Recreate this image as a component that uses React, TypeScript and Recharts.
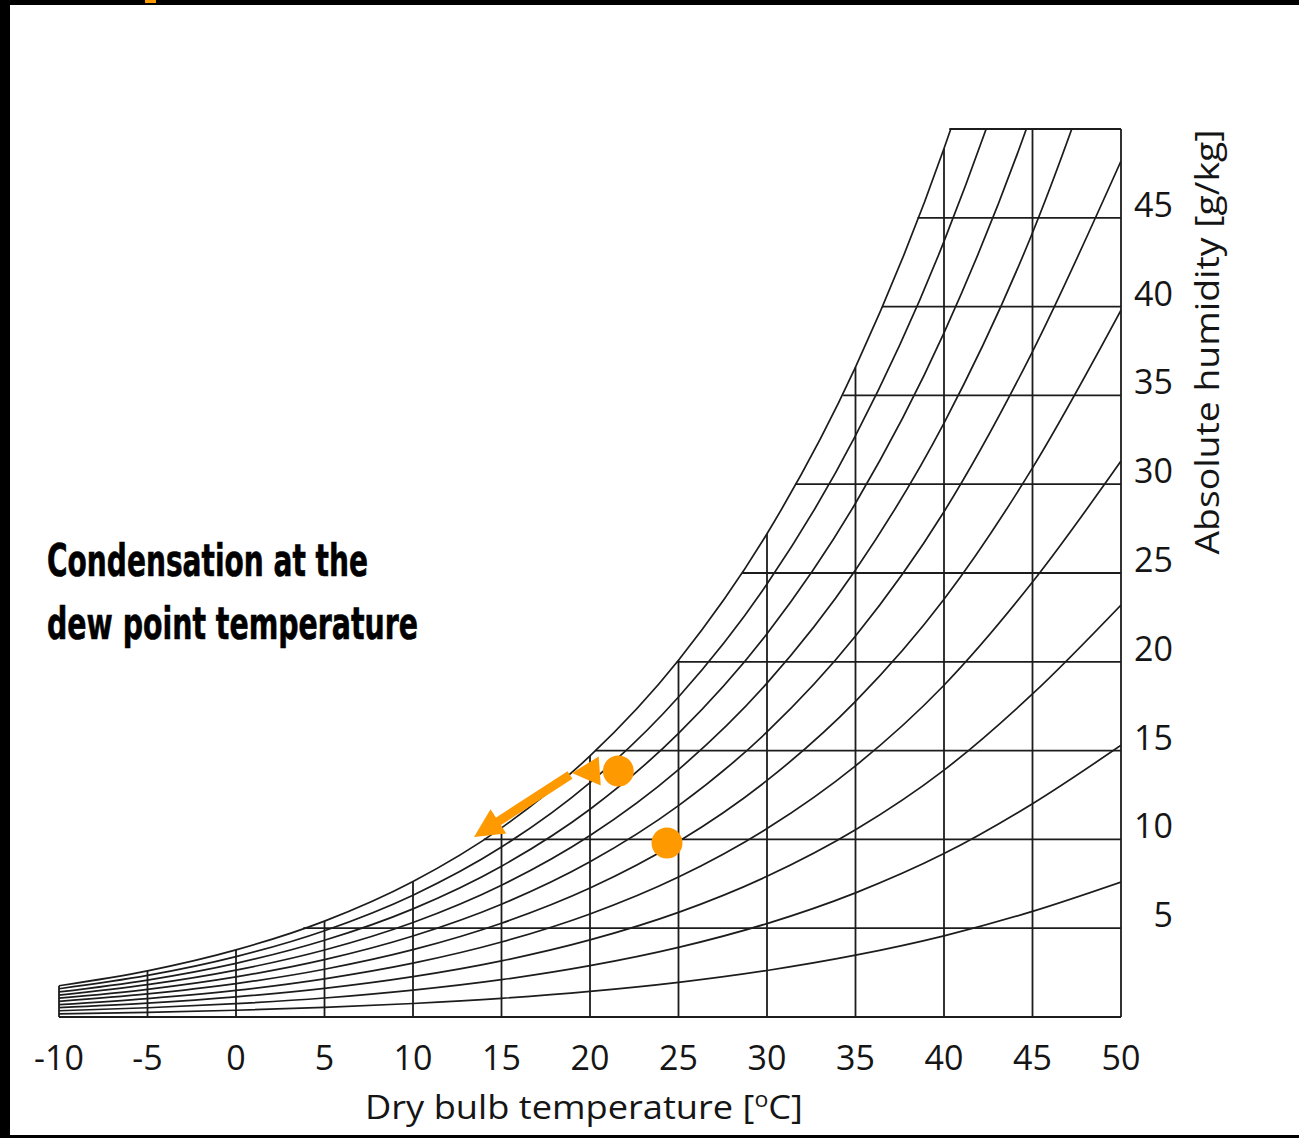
import React from 'react';
import { ComposedChart, Line, XAxis, YAxis, ReferenceLine, Scatter } from 'recharts';

// ---- data ----
const temperatures = [-10, -5, 0, 5, 10, 15, 20, 25, 30, 35, 40, 45, 50];
const rh10 = [0.18, 0.26, 0.38, 0.54, 0.76, 1.05, 1.44, 1.95, 2.62, 3.48, 4.57, 5.95, 7.6];
const rh20 = [0.35, 0.52, 0.75, 1.07, 1.51, 2.1, 2.89, 3.92, 5.26, 6.99, 9.2, 12.01, 15.3];
const rh30 = [0.53, 0.78, 1.13, 1.61, 2.27, 3.16, 4.34, 5.89, 7.92, 10.54, 13.9, 18.19, 23.2];
const rh40 = [0.7, 1.04, 1.5, 2.15, 3.03, 4.22, 5.8, 7.88, 10.61, 14.14, 18.68, 24.49, 31.3];
const rh50 = [0.88, 1.3, 1.88, 2.69, 3.79, 5.28, 7.26, 9.88, 13.32, 17.77, 23.52, 30.92, 39.8];
const rh60 = [1.06, 1.56, 2.26, 3.23, 4.56, 6.35, 8.74, 11.9, 16.05, 21.45, 28.45, 37.47, 48.2];
const rh70 = [1.23, 1.82, 2.64, 3.77, 5.32, 7.42, 10.22, 13.93, 18.8, 25.17, 33.44, 44.16, 58.0];
const rh80 = [1.41, 2.08, 3.02, 4.32, 6.09, 8.49, 11.7, 15.97, 21.58, 28.93, 38.52, 50.99, 67.2];
const rh90 = [1.59, 2.34, 3.4, 4.86, 6.86, 9.57, 13.2, 18.02, 24.38, 32.73, 43.67, 57.95, 76.7];
const rh100 = [1.76, 2.6, 3.78, 5.4, 7.63, 10.65, 14.7, 20.09, 27.21, 36.59, 48.9, 65.06, 86.4];

const xTicks = [-10, -5, 0, 5, 10, 15, 20, 25, 30, 35, 40, 45, 50];
const yTicks = [5, 10, 15, 20, 25, 30, 35, 40, 45];

// vertical grid lines: temperature and the humidity where they stop (saturation curve / top)
const vGridTemps = [-10, -5, 0, 5, 10, 15, 20, 25, 30, 35, 40, 45, 50];
const vGridTops = [1.76, 2.6, 3.78, 5.4, 7.63, 10.65, 14.7, 20.09, 27.21, 36.59, 48.9, 50, 50];
// horizontal grid lines: humidity and the temperature where they start (dew point)
const hGridHumidity = [0, 5, 10, 15, 20, 25, 30, 35, 40, 45, 50];
const hGridStarts = [-10, 3.8, 14.0, 20.3, 24.9, 28.6, 31.6, 34.3, 36.5, 38.5, 40.3];

// orange state points
const pointTemps = [21.6, 24.35];
const pointHumidity = [13.85, 9.8];

// orange arrows
const arrowStartTemps = [20.55, 18.87];
const arrowStartHumidity = [13.85, 13.63];
const arrowEndTemps = [18.98, 13.45];
const arrowEndHumidity = [13.74, 10.13];

const rhSeries: { key: string; values: number[] }[] = [
  { key: 'rh10', values: rh10 },
  { key: 'rh20', values: rh20 },
  { key: 'rh30', values: rh30 },
  { key: 'rh40', values: rh40 },
  { key: 'rh50', values: rh50 },
  { key: 'rh60', values: rh60 },
  { key: 'rh70', values: rh70 },
  { key: 'rh80', values: rh80 },
  { key: 'rh90', values: rh90 },
  { key: 'rh100', values: rh100 },
];

const chartData = temperatures.map((t, i) => {
  const row: Record<string, number> = { t };
  rhSeries.forEach((s) => {
    row[s.key] = s.values[i];
  });
  return row;
});

const pointData = pointTemps.map((t, i) => ({ t, w: pointHumidity[i] }));

// ---- layout ----
const W = 1299;
const H = 1138;
const PLOT_LEFT = 59;
const PLOT_RIGHT = 1121;
const PLOT_TOP = 129;
const PLOT_BOTTOM = 1017;
const Y_AXIS_W = 60;
const X_AXIS_H = 40;

const LINE = '#1c1c1c';
const ORANGE = '#FF9900';
const TEXT = '#151515';
const FONT = '"Open Sans", "Noto Sans", sans-serif';
const TICK_FS = 34;

const XTick = (props: any) => {
  const { x, payload } = props;
  return (
    <text x={x} y={PLOT_BOTTOM + 53} textAnchor="middle" fontSize={TICK_FS} fontFamily={FONT} fill={TEXT}>
      {payload.value}
    </text>
  );
};

const YTick = (props: any) => {
  const { y, payload } = props;
  return (
    <text x={PLOT_RIGHT + 52} y={y - 1} textAnchor="end" fontSize={TICK_FS} fontFamily={FONT} fill={TEXT}>
      {payload.value}
    </text>
  );
};

const XTitle = () => (
  <text
    x={365}
    y={PLOT_BOTTOM + 102}
    fontSize={33}
    fontFamily={FONT}
    fill={TEXT}
    textLength={438}
    lengthAdjust="spacingAndGlyphs"
  >
    {'Dry bulb temperature ['}
    <tspan fontSize={21} dy={-12}>o</tspan>
    <tspan dy={12}>{'C]'}</tspan>
  </text>
);

const YTitle = () => (
  <text
    x={1219}
    y={342}
    transform="rotate(-90, 1219, 342)"
    textAnchor="middle"
    fontSize={33}
    fontFamily={FONT}
    fill={TEXT}
    textLength={425}
    lengthAdjust="spacingAndGlyphs"
  >
    Absolute humidity [g/kg]
  </text>
);

const makeArrow = (maxHead: number, headWidth: number, shaftWidth: number) => (p: any) => {
  const { x1, y1, x2, y2 } = p;
  if ([x1, y1, x2, y2].some((v) => typeof v !== 'number' || isNaN(v))) return <g />;
  const dx = x2 - x1;
  const dy = y2 - y1;
  const len = Math.hypot(dx, dy) || 1;
  const ux = dx / len;
  const uy = dy / len;
  const nx = -uy;
  const ny = ux;
  const head = Math.min(maxHead, len);
  const bx = x2 - ux * head;
  const by = y2 - uy * head;
  const hw = headWidth / 2;
  return (
    <g>
      {len - head > 1 && (
        <line x1={x1} y1={y1} x2={bx + ux * 2} y2={by + uy * 2} stroke={ORANGE} strokeWidth={shaftWidth} />
      )}
      <polygon
        points={`${x2},${y2} ${bx + nx * hw},${by + ny * hw} ${bx - nx * hw},${by - ny * hw}`}
        fill={ORANGE}
      />
    </g>
  );
};

const Dot = (p: any) => <circle cx={p.cx} cy={p.cy} r={15.5} fill={ORANGE} />;

export default function App() {
  return (
    <div style={{ position: 'absolute', left: 0, top: 0, width: W, height: H, background: '#000' }}>
      <div style={{ position: 'absolute', left: 10, top: 5, width: W - 10, height: 1130, background: '#fff' }} />
      <div style={{ position: 'absolute', left: 145, top: 0, width: 11, height: 3, background: ORANGE }} />
      <div style={{ position: 'absolute', left: 0, top: 0 }}>
        <ComposedChart
          width={W}
          height={H}
          data={chartData}
          margin={{
            left: PLOT_LEFT,
            top: PLOT_TOP,
            right: W - PLOT_RIGHT - Y_AXIS_W,
            bottom: H - PLOT_BOTTOM - X_AXIS_H,
          }}
        >
          <XAxis
            type="number"
            dataKey="t"
            domain={[-10, 50]}
            ticks={xTicks}
            interval={0}
            allowDataOverflow
            axisLine={false}
            tickLine={false}
            height={X_AXIS_H}
            tick={(props: any) => <XTick {...props} />}
            label={{ content: () => <XTitle /> }}
          />
          <YAxis
            orientation="right"
            type="number"
            domain={[0, 50]}
            ticks={yTicks}
            interval={0}
            allowDataOverflow
            axisLine={false}
            tickLine={false}
            width={Y_AXIS_W}
            tick={(props: any) => <YTick {...props} />}
            label={{ content: () => <YTitle /> }}
          />
          {vGridTemps.map((t, i) => (
            <ReferenceLine
              key={`v${t}`}
              segment={[
                { x: t, y: 0 },
                { x: t, y: vGridTops[i] },
              ]}
              stroke={LINE}
              strokeWidth={1.8}
              ifOverflow="visible"
            />
          ))}
          {hGridHumidity.map((w, i) => (
            <ReferenceLine
              key={`h${w}`}
              segment={[
                { x: hGridStarts[i], y: w },
                { x: 50, y: w },
              ]}
              stroke={LINE}
              strokeWidth={1.8}
              ifOverflow="visible"
            />
          ))}
          {rhSeries.map((s) => (
            <Line
              key={s.key}
              type="monotone"
              dataKey={s.key}
              stroke={LINE}
              strokeWidth={1.7}
              dot={false}
              activeDot={false}
              isAnimationActive={false}
            />
          ))}
          {arrowStartTemps.map((t, i) => (
            <ReferenceLine
              key={`a${i}`}
              segment={[
                { x: t, y: arrowStartHumidity[i] },
                { x: arrowEndTemps[i], y: arrowEndHumidity[i] },
              ]}
              ifOverflow="visible"
              shape={makeArrow(i === 0 ? 28 : 29, 29, 9)}
            />
          ))}
          <Scatter data={pointData} dataKey="w" shape={<Dot />} isAnimationActive={false} />
        </ComposedChart>
      </div>
      <svg width={W} height={H} style={{ position: 'absolute', left: 0, top: 0, pointerEvents: 'none' }}>
        <g
          fontFamily='"Liberation Sans Narrow", "DejaVu Sans Condensed", "Roboto", sans-serif'
          fontWeight="bold"
          fontSize={45}
          fill="#000"
          stroke="#000"
          strokeWidth={0.6}
        >
          <text x={47} y={576} textLength={321} lengthAdjust="spacingAndGlyphs">
            Condensation at the
          </text>
          <text x={47} y={639} textLength={371} lengthAdjust="spacingAndGlyphs">
            dew point temperature
          </text>
        </g>
      </svg>
    </div>
  );
}
